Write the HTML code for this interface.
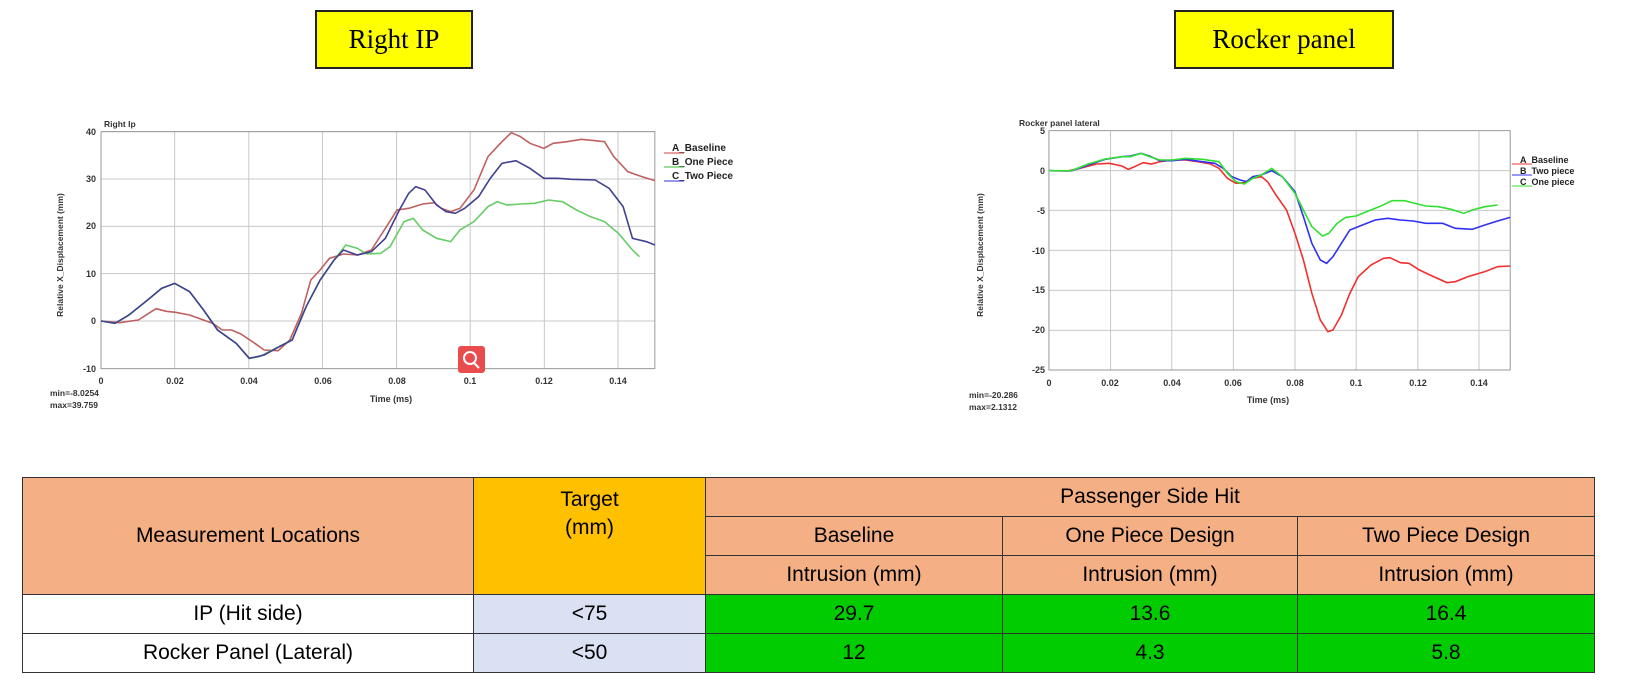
<!DOCTYPE html>
<html><head><meta charset="utf-8"><style>
body{margin:0;width:1626px;height:694px;background:#fff;position:relative;overflow:hidden;font-family:"Liberation Sans",sans-serif}
.tb{position:absolute;background:#ffff00;border:2px solid #222;font-family:"Liberation Serif",serif;font-size:27px;display:flex;align-items:center;justify-content:center;box-sizing:border-box}
table{position:absolute;left:22px;top:477px;border-collapse:collapse;font-size:21px}
td{border:1.5px solid #333;text-align:center;padding:0;height:38px}
.h{background:#f4b084}.t{background:#ffc000}.g{background:#00cc00}.l{background:#d9e1f2}
</style></head><body>
<div class="tb" style="left:315px;top:10px;width:158px;height:59px">Right IP</div>
<div class="tb" style="left:1174px;top:10px;width:220px;height:59px">Rocker panel</div>

<svg width="1626" height="460" style="position:absolute;left:0;top:0" font-family="Liberation Sans,sans-serif" font-weight="bold">
<g transform="translate(35.73,110) scale(0.4662,0.33333)" fill="none">
<g stroke="#c8c8c8" vector-effect="non-scaling-stroke">
<path vector-effect="non-scaling-stroke" d="M140 65H1328M140 207H1328M140 349H1328M140 491H1328M140 633H1328M298 65V776M457 65V776M615 65V776M774 65V776M932 65V776M1091 65V776M1249 65V776"/>
</g>
<path vector-effect="non-scaling-stroke" stroke="#999" d="M140 65V776H1328V65H140"/>
<path vector-effect="non-scaling-stroke" stroke="#c06060" stroke-width="1.6" d="M140 633L180 638 220 630 258 596 280 604 300 607 330 615 380 640 400 660 420 660 440 672 470 700 490 720 520 722 545 690 570 610 590 510 610 480 630 445 660 432 690 435 720 420 750 355 775 300 800 295 830 282 855 278 870 295 890 305 910 295 940 240 970 140 1000 95 1020 68 1040 80 1060 100 1090 115 1110 100 1140 95 1170 88 1200 92 1220 95 1240 140 1270 185 1300 200 1328 212"/>
<path vector-effect="non-scaling-stroke" stroke="#66cc66" stroke-width="1.6" d="M140 633L170 640 200 615 240 570 270 535 298 520 330 545 360 600 390 660 430 700 458 745 480 740 510 718 550 690 580 590 610 510 640 450 665 405 690 415 710 432 740 430 760 410 790 335 810 325 830 360 860 385 890 395 910 360 940 335 970 290 990 275 1010 285 1040 282 1070 280 1100 270 1130 275 1160 300 1190 320 1220 335 1250 370 1280 420 1295 440"/>
<path vector-effect="non-scaling-stroke" stroke="#404090" stroke-width="1.6" d="M140 633L170 640 200 615 240 570 270 535 298 520 330 545 360 600 390 660 430 700 458 745 490 735 520 712 550 690 580 590 610 510 640 450 660 420 690 435 720 425 750 385 780 300 800 250 815 230 835 240 860 285 880 305 900 310 920 295 950 260 975 205 1000 160 1030 152 1060 175 1090 205 1120 205 1150 208 1200 210 1230 235 1260 290 1280 385 1310 395 1328 405"/>
</g>
<g font-size="9" fill="#333" text-anchor="end">
<text x="96" y="135">40</text><text x="96" y="182">30</text><text x="96" y="229">20</text><text x="96" y="277">10</text><text x="96" y="324">0</text><text x="96" y="372">-10</text>
</g>
<g font-size="9" fill="#333" text-anchor="middle">
<text x="101" y="384">0</text><text x="175" y="384">0.02</text><text x="249" y="384">0.04</text><text x="323" y="384">0.06</text><text x="397" y="384">0.08</text><text x="470" y="384">0.1</text><text x="544" y="384">0.12</text><text x="618" y="384">0.14</text>
<text x="391" y="402">Time (ms)</text>
</g>
<text x="104" y="127" font-size="8.5" fill="#333">Right Ip</text>
<text transform="translate(63,255) rotate(-90)" font-size="8.5" fill="#333" text-anchor="middle">Relative X_Displacement (mm)</text>
<text x="50" y="396" font-size="8.5" fill="#333">min=-8.0254</text><text x="50" y="408" font-size="8.5" fill="#333">max=39.759</text>
<g font-size="10" fill="#222"><text x="672" y="151">A_Baseline</text><text x="672" y="165">B_One Piece</text><text x="672" y="179">C_Two Piece</text></g>
<path d="M664 153h20" stroke="#d04040"/><path d="M664 167h20" stroke="#30c030"/><path d="M664 181h20" stroke="#3030d0"/>
<rect x="458" y="346" width="27" height="27" rx="3" fill="#e84c4c"/><circle cx="470" cy="358" r="6" stroke="#fff" stroke-width="2" fill="none"/><path d="M474 363l5 5" stroke="#fff" stroke-width="2"/>

<g transform="translate(961.6,110) scale(0.422,0.33333)" fill="none">
<path vector-effect="non-scaling-stroke" stroke="#c8c8c8" d="M207 182H1300M207 301H1300M207 421H1300M207 541H1300M207 661H1300M353 62V780M498 62V780M644 62V780M790 62V780M935 62V780M1081 62V780M1226 62V780"/>
<path vector-effect="non-scaling-stroke" stroke="#999" d="M207 62V780H1300V62H207"/>
<path vector-effect="non-scaling-stroke" stroke="#f03030" stroke-width="1.6" d="M207 182L250 183 280 175 320 162 350 160 380 168 395 178 410 170 430 158 450 162 470 155 500 150 530 150 560 155 590 162 610 175 630 205 650 220 670 218 690 205 710 200 725 215 745 255 770 300 790 370 810 450 830 550 850 630 868 665 880 660 900 615 920 550 940 500 970 465 1000 445 1015 443 1040 458 1060 460 1085 480 1110 495 1150 518 1170 515 1200 500 1240 485 1270 470 1300 468"/>
<path vector-effect="non-scaling-stroke" stroke="#3030f0" stroke-width="1.6" d="M207 182L260 183 300 165 340 148 380 140 400 138 425 130 445 138 470 152 500 152 530 148 570 155 600 160 620 175 640 200 660 210 675 215 690 200 710 195 735 182 760 200 790 245 810 320 830 400 850 450 865 460 880 440 900 400 920 360 950 345 980 330 1010 325 1040 330 1070 333 1100 340 1140 340 1170 355 1210 358 1240 345 1270 333 1300 322"/>
<path vector-effect="non-scaling-stroke" stroke="#30e030" stroke-width="1.6" d="M207 182L260 182 300 162 340 147 380 140 400 140 425 130 445 140 470 150 500 150 530 145 570 148 610 155 630 190 650 215 670 222 690 205 710 195 735 175 760 200 790 250 810 300 830 350 855 378 870 370 890 340 910 322 935 318 960 305 990 290 1020 272 1050 272 1080 282 1100 288 1130 290 1160 298 1190 310 1210 300 1240 290 1270 285"/>
</g>
<g font-size="9" fill="#333" text-anchor="end">
<text x="1045" y="134">5</text><text x="1045" y="174">0</text><text x="1045" y="214">-5</text><text x="1045" y="254">-10</text><text x="1045" y="293">-15</text><text x="1045" y="333">-20</text><text x="1045" y="373">-25</text>
</g>
<g font-size="9" fill="#333" text-anchor="middle">
<text x="1049" y="386">0</text><text x="1110" y="386">0.02</text><text x="1172" y="386">0.04</text><text x="1233" y="386">0.06</text><text x="1295" y="386">0.08</text><text x="1356" y="386">0.1</text><text x="1418" y="386">0.12</text><text x="1479" y="386">0.14</text>
<text x="1268" y="403">Time (ms)</text>
</g>
<text x="1019" y="126" font-size="8.5" fill="#333">Rocker panel lateral</text>
<text transform="translate(983,255) rotate(-90)" font-size="8.5" fill="#333" text-anchor="middle">Relative X_Displacement (mm)</text>
<text x="969" y="398" font-size="8.5" fill="#333">min=-20.286</text><text x="969" y="410" font-size="8.5" fill="#333">max=2.1312</text>
<g font-size="9" fill="#222"><text x="1520" y="163">A_Baseline</text><text x="1520" y="174">B_Two piece</text><text x="1520" y="185">C_One piece</text></g>
<path d="M1512 164h20" stroke="#f03030"/><path d="M1512 175h20" stroke="#3030f0"/><path d="M1512 186h20" stroke="#30e030"/>
</svg>

<table>
<tr><td class="h" rowspan="3" style="width:450px">Measurement Locations</td><td class="t" rowspan="3" style="width:231px;vertical-align:top;padding-top:8px;line-height:28px">Target<br>(mm)</td><td class="h" colspan="3">Passenger Side Hit</td></tr>
<tr><td class="h" style="width:296px">Baseline</td><td class="h" style="width:294px">One Piece Design</td><td class="h" style="width:296px">Two Piece Design</td></tr>
<tr><td class="h">Intrusion (mm)</td><td class="h">Intrusion (mm)</td><td class="h">Intrusion (mm)</td></tr>
<tr><td>IP (Hit side)</td><td class="l">&lt;75</td><td class="g">29.7</td><td class="g">13.6</td><td class="g">16.4</td></tr>
<tr><td>Rocker Panel (Lateral)</td><td class="l">&lt;50</td><td class="g">12</td><td class="g">4.3</td><td class="g">5.8</td></tr>
</table>
</body></html>
